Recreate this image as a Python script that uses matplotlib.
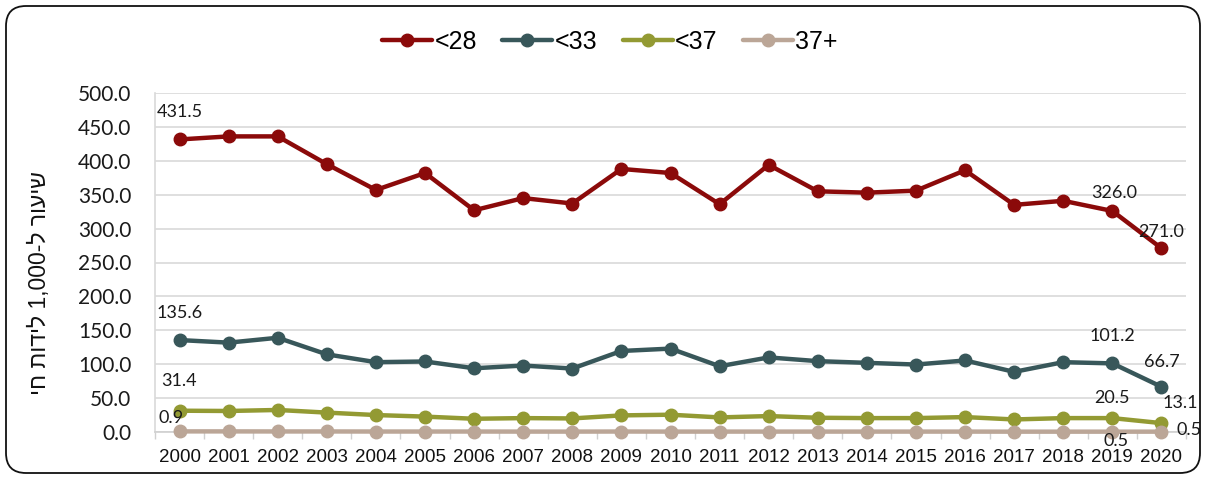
import numpy as np
import matplotlib
matplotlib.use('Agg')
import matplotlib.pyplot as plt
import matplotlib.patches as patches
import matplotlib.transforms as mtransforms

# data
years = list(range(2000, 2021))
series_names = ['<28', '<33', '<37', '37+']
lt28 = [431.5, 436, 436, 395, 357, 382, 327, 345, 337, 388, 382,
        336, 394, 355, 353, 356, 386, 335, 341, 326.0, 271.0]
lt33 = [135.6, 131.8, 139, 114.5, 103, 104, 94, 98, 93.6, 119.5, 123,
        97, 110, 104.5, 102, 99.5, 105.5, 88.7, 103, 101.2, 66.7]
lt37 = [31.4, 31.0, 32.5, 28.6, 25, 22.7, 19.5, 20.5, 20.0, 24.5, 25.5,
        21.5, 23.5, 21, 20.5, 20.5, 22, 18.5, 20.5, 20.5, 13.1]
ge37 = [0.9, 0.9, 0.8, 0.8, 0.7, 0.7, 0.7, 0.6, 0.6, 0.7, 0.6,
        0.6, 0.6, 0.6, 0.6, 0.6, 0.6, 0.5, 0.5, 0.5, 0.5]
y_ticks = [0, 50, 100, 150, 200, 250, 300, 350, 400, 450, 500]
y_label = 'יח תודיל 1,000-ל רועיש'  # visual order (rtl) for 'שיעור ל-1,000 לידות חי'

colors = ['#8B0A0A', '#38575A', '#939A33', '#BBA697']
all_series = [lt28, lt33, lt37, ge37]

fig = plt.figure(figsize=(12.06, 4.79), dpi=100)
ax = fig.add_axes([155 / 1206, 47 / 479, 1031 / 1206, 339 / 479])

for vals, col, name in zip(all_series, colors, series_names):
    ax.plot(years, vals, color=col, linewidth=3.2, marker='o', markersize=9,
            solid_capstyle='round', label=name, zorder=3, clip_on=False)

ax.set_xlim(1999.5, 2020.5)
ax.set_ylim(0, 500)
ax.set_yticks(y_ticks)
ax.set_yticklabels([f'{v:.1f}' for v in y_ticks], fontfamily='Lato', fontsize=15, color='#1a1a1a')
ax.set_xticks(years)
ax.set_xticklabels([str(y) for y in years], fontfamily='Liberation Sans', fontsize=13.5, color='#111111')
ax.set_xticks(np.arange(1999.5, 2021, 1), minor=True)
ax.tick_params(axis='y', length=0, pad=17)
ax.tick_params(axis='x', which='major', length=0, pad=12)
ax.tick_params(axis='x', which='minor', length=5, color='#D0D0D0', width=1)

ax.grid(axis='y', color='#D9D9D9', linewidth=1.2, zorder=0)
ax.set_axisbelow(True)
for s in ['top', 'right']:
    ax.spines[s].set_visible(False)
ax.spines['left'].set_color('#D9D9D9')
ax.spines['bottom'].set_color('#D0D0D0')
ax.spines['left'].set_linewidth(1.2)
ax.spines['bottom'].set_linewidth(1.2)

fig.text(40 / 1206, 1 - 283 / 479, y_label, rotation=90, ha='center', va='center',
         fontfamily='Liberation Sans', fontsize=16.5, color='#111111')

# data labels: (series index, year index, dx px, dy px)
label_spots = [
    (0, 0, 0, 27), (1, 0, 0, 27), (2, 0, -1, 30), (3, 0, -8, 13),
    (0, 19, 2, 18), (1, 19, 0, 27), (2, 19, 0, 20), (3, 19, 4, -9),
    (0, 20, 0, 16), (1, 20, 0, 25), (2, 20, 19, 20), (3, 20, 28, 2),
]
for si, yi, dx, dy in label_spots:
    v = all_series[si][yi]
    ax.annotate(f'{v:.1f}', (years[yi], v), xytext=(dx * 0.72, dy * 0.72),
                textcoords='offset points', ha='center', va='center',
                fontfamily='Lato', fontsize=13, color='#1a1a1a',
                annotation_clip=False, zorder=5)

leg = fig.legend(loc='center', bbox_to_anchor=(610 / 1206, 1 - 42 / 479), ncol=4,
                 frameon=False, handlelength=2.0, handletextpad=0.1, columnspacing=1.0,
                 prop={'family': 'Liberation Sans', 'size': 18})

# rounded frame around the whole chart
frame = patches.FancyBboxPatch((6, 6), 1194, 467,
                               boxstyle='round,pad=0,rounding_size=20',
                               transform=mtransforms.IdentityTransform(),
                               facecolor='none', edgecolor='#111111', linewidth=1.3)
fig.patches.append(frame)

fig.savefig('out.png', dpi=100)
